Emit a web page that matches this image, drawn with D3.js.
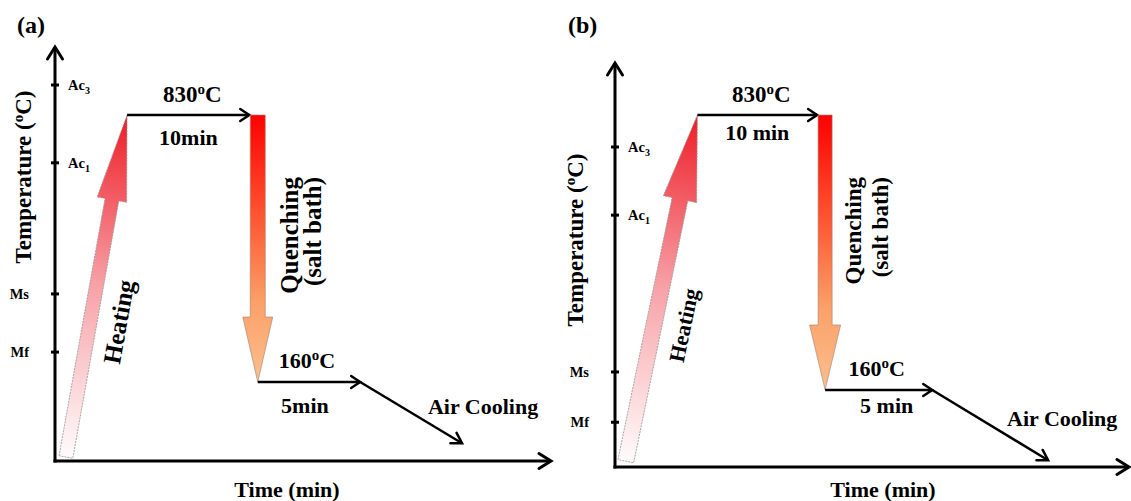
<!DOCTYPE html>
<html>
<head>
<meta charset="utf-8">
<script src="https://cdn.jsdelivr.net/npm/d3@7"></script>
<style>
  html, body { margin: 0; padding: 0; background: #fff; }
  svg { display: block; }
  text { font-family: "Liberation Serif", "Times New Roman", serif; font-weight: bold; fill: #000; }
</style>
</head>
<body>
<script>
// Heat-treatment schedules: heat to 830 °C, hold, quench in salt bath to 160 °C, hold, air cool.
const panelLabels = ["(a)", "(b)"];
const austenitizeTemp = 830;
const quenchTemp = 160;

// Critical temperatures marked on the temperature axis (schematic positions, °C)
const criticalNames = [["Ac", "3"], ["Ac", "1"], ["Ms", ""], ["Mf", ""]];
const criticalSide = ["right", "right", "left", "left"];
const criticalTempsA = [905, 710, 381, 235];
const criticalTempsB = [752, 586, 204, 93];

// Stage times on the schematic time axis (0–100):
// heating start, reach 830 °C, quench, end of 160 °C hold, end of air cooling
const stageTimesA = [2.2, 14.5, 40.8, 61.4, 81.9];
const stageTimesB = [2.1, 16.0, 40.8, 61.6, 84.1];
const startTempA = 8, endTempA = 36;
const startTempB = 12, endTempB = 14;
const holdLabelsA = ["10min", "5min"];
const holdLabelsB = ["10 min", "5 min"];

// temperature domain breakpoints (piecewise axis)
const tempDomain = [0, quenchTemp, austenitizeTemp, 1000];
const timeDomain = [0, 100];

const W = 1131, H = 501;
const svg = d3.select("body").append("svg").attr("width", W).attr("height", H);
const defs = svg.append("defs");

const heatGrad = defs.append("linearGradient").attr("id", "heatGrad")
  .attr("x1", 0).attr("y1", 0).attr("x2", 1).attr("y2", 0);
heatGrad.append("stop").attr("offset", 0).attr("stop-color", "#fffbfb");
heatGrad.append("stop").attr("offset", 0.5).attr("stop-color", "#f7a2a8");
heatGrad.append("stop").attr("offset", 1).attr("stop-color", "#ee1c25");

const quenchGrad = defs.append("linearGradient").attr("id", "quenchGrad")
  .attr("x1", 0).attr("y1", 0).attr("x2", 0).attr("y2", 1);
quenchGrad.append("stop").attr("offset", 0).attr("stop-color", "#ff0000");
quenchGrad.append("stop").attr("offset", 0.4).attr("stop-color", "#fd5a34");
quenchGrad.append("stop").attr("offset", 0.7).attr("stop-color", "#fba068");
quenchGrad.append("stop").attr("offset", 1).attr("stop-color", "#fbbf8f");

const panels = [
  {
    label: panelLabels[0], labelX: 17,
    xRange: [55, 552], yRange: [461, 382, 115, 47],
    crit: criticalTempsA, times: stageTimesA, startT: startTempA, endT: endTempA,
    holds: holdLabelsA,
    heatShaft: 7, heatHead: 15, heatHeadLen: 86, heatFont: 25,
    quenchShaft: 7.5, quenchHead: 15, quenchHeadLen: 65, quenchFont: 25,
    quenchDx: [31, 54], titleY: 177, titleX: 23, timeX: 287,
    holdBelow: 30, hold2Below: 31, hold2Dx: -4
  },
  {
    label: panelLabels[1], labelX: 568,
    xRange: [615, 1130], yRange: [467, 390, 115, 63],
    crit: criticalTempsB, times: stageTimesB, startT: startTempB, endT: endTempB,
    holds: holdLabelsB,
    heatShaft: 8, heatHead: 17, heatHeadLen: 86, heatFont: 22,
    quenchShaft: 7, quenchHead: 15.5, quenchHeadLen: 65, quenchFont: 23,
    quenchDx: [28, 55], titleY: 240, titleX: 575, timeX: 883,
    holdBelow: 25, hold2Below: 23, hold2Dx: 8
  }
];

// open chevron arrowhead with its tip at (x, y), pointing along angle (radians)
function chevron(g, x, y, ang, len, half, width) {
  const bx = x - Math.cos(ang) * len, by = y - Math.sin(ang) * len;
  const px = -Math.sin(ang) * half, py = Math.cos(ang) * half;
  g.append("path")
    .attr("d", `M${bx + px},${by + py}L${x},${y}L${bx - px},${by - py}`)
    .attr("fill", "none").attr("stroke", "#000")
    .attr("stroke-width", width).attr("stroke-linejoin", "miter").attr("stroke-linecap", "round");
}

// "<pre>°<post>" with a raised small "o" as the degree sign
function degreeText(sel, fs, pre, post) {
  const shift = Math.round(fs * 0.36);
  sel.append("tspan").text(pre);
  sel.append("tspan").attr("font-size", Math.round(fs * 0.66)).attr("dy", -shift).text("o");
  sel.append("tspan").attr("dy", shift).text(post);
}

panels.forEach(p => {
  const g = svg.append("g");
  const x = d3.scaleLinear().domain(timeDomain).range(p.xRange);
  const y = d3.scaleLinear().domain(tempDomain).range(p.yRange);
  const ax = x(timeDomain[0]), ay = y(tempDomain[0]);
  const [t0, t1, t2, t3, t4] = p.times;

  // panel tag
  g.append("text").attr("x", p.labelX).attr("y", 33).attr("font-size", 24).text(p.label);

  // axes
  g.append("line").attr("x1", ax).attr("y1", ay + 1.5).attr("x2", ax).attr("y2", y(tempDomain[3]) + 1)
    .attr("stroke", "#000").attr("stroke-width", 3);
  chevron(g, ax, y(tempDomain[3]), -Math.PI / 2, 12, 7.5, 3);
  g.append("line").attr("x1", ax - 1.5).attr("y1", ay).attr("x2", x(timeDomain[1]) - 1).attr("y2", ay)
    .attr("stroke", "#000").attr("stroke-width", 3);
  chevron(g, x(timeDomain[1]) - 1, ay, 0, 12, 7.5, 3);

  // critical temperature ticks
  p.crit.forEach((T, i) => {
    const ty = y(T);
    g.append("line").attr("x1", ax - 4).attr("x2", ax + 4).attr("y1", ty).attr("y2", ty)
      .attr("stroke", "#000").attr("stroke-width", 3);
    const right = criticalSide[i] === "right";
    const t = g.append("text").attr("x", right ? ax + 13 : ax - 26).attr("y", ty)
      .attr("dy", "0.35em").attr("font-size", 14.5)
      .attr("text-anchor", right ? "start" : "end");
    t.append("tspan").text(criticalNames[i][0]);
    if (criticalNames[i][1]) {
      t.append("tspan").attr("font-size", 10).attr("dy", 4).text(criticalNames[i][1]);
    }
  });

  // axis titles
  const yt = g.append("text").attr("font-size", 23).attr("text-anchor", "middle")
    .attr("transform", `translate(${p.titleX},${p.titleY}) rotate(-90)`).attr("dy", "0.35em");
  degreeText(yt, 23, "Temperature (", "C)");
  g.append("text").attr("x", p.timeX).attr("y", 497).attr("font-size", 22)
    .attr("text-anchor", "middle").text("Time (min)");

  // heating arrow (gradient block arrow along the heating ramp)
  const hx0 = x(t0), hy0 = y(p.startT), hx1 = x(t1), hy1 = y(austenitizeTemp);
  const L = Math.hypot(hx1 - hx0, hy1 - hy0);
  const ang = Math.atan2(hy1 - hy0, hx1 - hx0) * 180 / Math.PI;
  const hg = g.append("g").attr("transform", `translate(${hx0},${hy0}) rotate(${ang})`);
  const sw = p.heatShaft, hw = p.heatHead, hl = p.heatHeadLen;
  hg.append("path")
    .attr("d", `M0,${-sw}L${L - hl},${-sw}L${L - hl},${-hw}L${L},0L${L - hl},${hw}L${L - hl},${sw}L0,${sw}Z`)
    .attr("fill", "url(#heatGrad)").attr("stroke", "#9a9a9a").attr("stroke-width", 0.8)
    .attr("stroke-dasharray", "2,1");
  hg.append("text").attr("x", L * 0.41).attr("y", sw + 21).attr("dy", "0.35em")
    .attr("text-anchor", "middle").attr("font-size", p.heatFont).text("Heating");

  // holding at 830 °C
  const qx = x(t2);
  g.append("line").attr("x1", hx1).attr("y1", hy1).attr("x2", qx - p.quenchShaft - 1).attr("y2", hy1)
    .attr("stroke", "#000").attr("stroke-width", 2.5);
  chevron(g, qx - p.quenchShaft - 1, hy1, 0, 9, 6, 2.5);
  const t830 = g.append("text").attr("x", (hx1 + qx) / 2).attr("y", hy1 - 13)
    .attr("text-anchor", "middle").attr("font-size", 23);
  degreeText(t830, 23, String(austenitizeTemp), "C");
  g.append("text").attr("x", (hx1 + qx) / 2 - 4).attr("y", hy1 + p.holdBelow)
    .attr("text-anchor", "middle").attr("font-size", 22).text(p.holds[0]);

  // quenching arrow
  const qy0 = y(austenitizeTemp), qy1 = y(quenchTemp);
  const qs = p.quenchShaft, qh = p.quenchHead, ql = p.quenchHeadLen;
  g.append("path")
    .attr("d", `M${qx - qs},${qy0}L${qx + qs},${qy0}L${qx + qs},${qy1 - ql}L${qx + qh},${qy1 - ql}` +
      `L${qx},${qy1}L${qx - qh},${qy1 - ql}L${qx - qs},${qy1 - ql}Z`)
    .attr("fill", "url(#quenchGrad)").attr("stroke", "#a08070").attr("stroke-width", 0.6);
  const qTop = qy0 + 62;
  g.append("text").attr("transform", `translate(${qx + p.quenchDx[0]},${qTop}) rotate(-90)`)
    .attr("dy", "0.35em").attr("text-anchor", "end").attr("font-size", p.quenchFont).text("Quenching");
  g.append("text").attr("transform", `translate(${qx + p.quenchDx[1]},${qTop}) rotate(-90)`)
    .attr("dy", "0.35em").attr("text-anchor", "end").attr("font-size", p.quenchFont).text("(salt bath)");

  // holding at 160 °C
  const x3 = x(t3);
  g.append("line").attr("x1", qx).attr("y1", qy1).attr("x2", x3).attr("y2", qy1)
    .attr("stroke", "#000").attr("stroke-width", 2.5);
  chevron(g, x3, qy1, 0, 9, 6, 2.5);
  const t160 = g.append("text").attr("x", (qx + x3) / 2 - 2).attr("y", qy1 - 14)
    .attr("text-anchor", "middle").attr("font-size", 22);
  degreeText(t160, 22, String(quenchTemp), "C");
  g.append("text").attr("x", (qx + x3) / 2 + p.hold2Dx).attr("y", qy1 + p.hold2Below)
    .attr("text-anchor", "middle").attr("font-size", 22).text(p.holds[1]);

  // air cooling
  const x4 = x(t4), y4 = y(p.endT);
  g.append("line").attr("x1", x3).attr("y1", qy1).attr("x2", x4).attr("y2", y4)
    .attr("stroke", "#000").attr("stroke-width", 2.5);
  chevron(g, x4, y4, Math.atan2(y4 - qy1, x4 - x3), 10, 6, 2.5);
  g.append("text").attr("x", (x3 + x4) / 2 + 72).attr("y", (qy1 + y4) / 2 + 1)
    .attr("text-anchor", "middle").attr("font-size", 22).text("Air Cooling");
});
</script>
</body>
</html>
